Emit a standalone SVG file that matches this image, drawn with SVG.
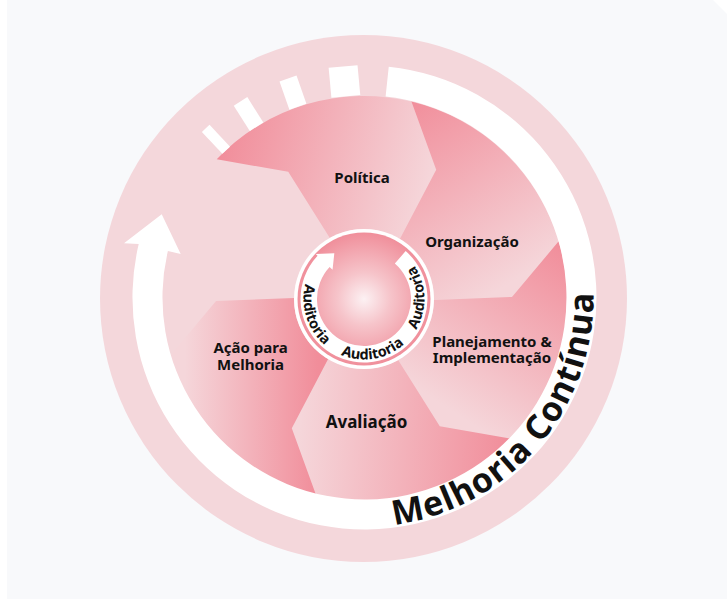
<svg xmlns="http://www.w3.org/2000/svg" width="727" height="599" viewBox="0 0 727 599">
  <style>
    .lbl { font-family: "Noto Sans", "Open Sans", "DejaVu Sans", sans-serif; font-weight: 700; fill: #111111; text-anchor: middle; }
    .seg-label { font-size: 15px; }
    .ring-text { font-family: "Noto Sans", "Open Sans", "DejaVu Sans", sans-serif; font-weight: 700; fill: #111111; }
    .band { fill: #ffffff; }
  </style>
  <defs>
    <!-- segment shape in local coordinates (wheel centre at origin), spanning the -120..-60 degree slot -->
    <path id="seg" d="M -34.15,-61.10 L -75.78,-127.13 L -147.26,-139.74 A 203 203 0 0 1 47.39,-197.40 L 72.21,-129.19 L 35.84,-60.13 A 70 70 0 0 0 -34.15,-61.10 Z"/>
    <linearGradient id="g-politica" gradientUnits="userSpaceOnUse" x1="-148" y1="-141" x2="56" y2="-84">
      <stop offset="0" stop-color="#f18d9a"/>
      <stop offset="1" stop-color="#f5d6da"/>
    </linearGradient>
    <linearGradient id="g-organizacao" gradientUnits="userSpaceOnUse" x1="-151.8" y1="-135" x2="59" y2="-140.3">
      <stop offset="0" stop-color="#f18d9a"/>
      <stop offset="1" stop-color="#f5d6da"/>
    </linearGradient>
    <linearGradient id="g-planejamento" gradientUnits="userSpaceOnUse" x1="-147.4" y1="-141.2" x2="53.1" y2="-130">
      <stop offset="0" stop-color="#f18d9a"/>
      <stop offset="1" stop-color="#f5d6da"/>
    </linearGradient>
    <linearGradient id="g-avaliacao" gradientUnits="userSpaceOnUse" x1="-147" y1="-141" x2="64" y2="-131">
      <stop offset="0" stop-color="#f18d9a"/>
      <stop offset="1" stop-color="#f5d6da"/>
    </linearGradient>
    <linearGradient id="g-acao" gradientUnits="userSpaceOnUse" x1="-64.5" y1="-90.3" x2="2" y2="-205.5">
      <stop offset="0" stop-color="#f18d9a"/>
      <stop offset="1" stop-color="#f5d6da"/>
    </linearGradient>
    <radialGradient id="g-hub" cx="364" cy="299" r="66.5" gradientUnits="userSpaceOnUse">
      <stop offset="0" stop-color="#fcf1f3"/>
      <stop offset="0.4" stop-color="#f6c4ca"/>
      <stop offset="1" stop-color="#f08f9b"/>
    </radialGradient>
    <!-- text paths, both running counter-clockwise so glyph tops face the centre -->
    <path id="hub-path" d="M 364,238.5 A 60.5 60.5 0 1 0 364,359.5 A 60.5 60.5 0 1 0 364,238.5"/>
    <path id="band-path" d="M 215.5,471.4 A 229 229 0 0 0 513.5,123.6"/>
  </defs>

  <!-- page -->
  <rect x="0" y="0" width="727" height="599" fill="#ffffff"/>
  <polygon points="7,0 713,0 727,14 727,599 7,599" fill="#f8f9fb"/>

  <!-- outer disc -->
  <circle cx="363.5" cy="298.5" r="263.5" fill="#f4d7db"/>

  <!-- wheel segments -->
  <g id="politica">
    <use href="#seg" transform="translate(364 299)" fill="url(#g-politica)"/>
    <text class="lbl seg-label" x="362" y="182.5">Política</text>
  </g>
  <g id="organizacao">
    <use href="#seg" transform="translate(364 299) rotate(60)" fill="url(#g-organizacao)"/>
    <text class="lbl seg-label" x="472" y="246.5">Organização</text>
  </g>
  <g id="planejamento">
    <use href="#seg" transform="translate(364 299) rotate(120)" fill="url(#g-planejamento)"/>
    <text class="lbl seg-label" x="492" y="346.5">Planejamento &amp;</text>
    <text class="lbl seg-label" x="492" y="363">Implementação</text>
  </g>
  <g id="avaliacao">
    <use href="#seg" transform="translate(364 299) rotate(180)" fill="url(#g-avaliacao)"/>
    <text class="lbl" x="366.5" y="428.3" font-size="17">Avaliação</text>
  </g>
  <g id="acao">
    <use href="#seg" transform="translate(364 299) rotate(240)" fill="url(#g-acao)"/>
    <text class="lbl seg-label" x="250.5" y="353.3">Ação para</text>
    <text class="lbl seg-label" x="250.5" y="369.5">Melhoria</text>
  </g>

  <!-- continuous-improvement band with its dashed lead-in -->
  <g id="connectors">
    <path class="band" d="M 388.75,66.8 A 232 232 0 1 1 138.7,244.1 L 124,243.3 L 161.7,214.3 L 180.7,254 L 167.9,251 A 202 202 0 1 0 385.6,96.6 Z"/>
    <g class="band" transform="translate(364.5 297.5)">
      <rect x="-5.25" y="-232" width="10.5" height="30" transform="rotate(-43.2)"/>
      <rect x="-8" y="-232" width="16" height="30" transform="rotate(-32.3)"/>
      <rect x="-9" y="-232" width="18" height="30" transform="rotate(-19.25)"/>
      <rect x="-14.5" y="-232" width="29" height="30" transform="rotate(-5.3)"/>
    </g>
    <text class="ring-text" font-size="34" letter-spacing="1.2">
      <textPath href="#band-path" startOffset="50%" text-anchor="middle">Melhoria Contínua</textPath>
    </text>
  </g>

  <!-- audit hub -->
  <g id="auditoria">
    <circle cx="364" cy="299" r="70" fill="#ffffff"/>
    <circle cx="364" cy="299" r="66.5" fill="url(#g-hub)"/>
    <path class="band" d="M 405.66,251.08 A 63.5 63.5 0 1 1 317.56,255.69 L 315.73,253.99 L 334.32,253.29 L 332.55,269.67 L 329.62,266.95 A 47 47 0 1 0 394.84,263.53 Z"/>
    <text class="ring-text" font-size="14.5">
      <textPath href="#hub-path" startOffset="29.86%" text-anchor="middle">Auditoria</textPath>
    </text>
    <text class="ring-text" font-size="14.5">
      <textPath href="#hub-path" startOffset="52.64%" text-anchor="middle">Auditoria</textPath>
    </text>
    <text class="ring-text" font-size="14.5">
      <textPath href="#hub-path" startOffset="75.42%" text-anchor="middle">Auditoria</textPath>
    </text>
  </g>
</svg>
